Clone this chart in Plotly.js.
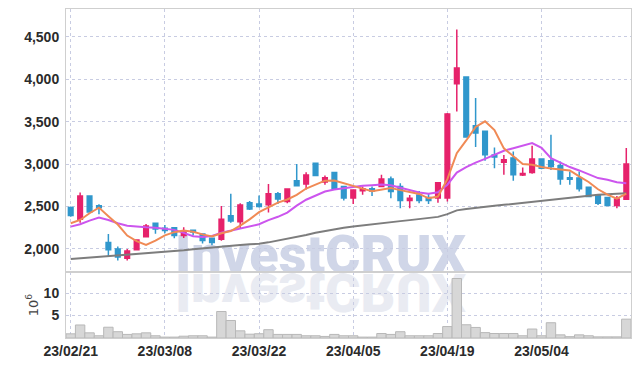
<!DOCTYPE html>
<html>
<head>
<meta charset="utf-8">
<script src="https://cdn.plot.ly/plotly-3.0.1.min.js"></script>
<style>html,body{margin:0;padding:0;background:#fff}#chart{width:639px;height:366px}</style>
</head>
<body>
<div id="chart"></div>
<script>
const dates = ['23/02/21','23/02/22','23/02/23','23/02/24','23/02/27','23/02/28','23/03/02','23/03/03','23/03/06','23/03/07',
'23/03/08','23/03/09','23/03/10','23/03/13','23/03/14','23/03/15','23/03/16','23/03/17','23/03/20','23/03/21',
'23/03/22','23/03/23','23/03/24','23/03/27','23/03/28','23/03/29','23/03/30','23/03/31','23/04/03','23/04/04',
'23/04/05','23/04/06','23/04/07','23/04/10','23/04/11','23/04/12','23/04/13','23/04/14','23/04/17','23/04/18',
'23/04/19','23/04/20','23/04/21','23/04/24','23/04/25','23/04/26','23/04/27','23/04/28','23/05/02','23/05/03',
'23/05/04','23/05/08','23/05/09','23/05/10','23/05/11','23/05/12','23/05/15','23/05/16','23/05/17','23/05/18'];

const openP  = [2490,2350,2625,2510,2075,2000,1890,1990,2145,2303, 2244,2250,2160,2222,2177,2125,2115,2390,2322,2545,
                2530,2520,2650,2560,2805,2765,3010,2790,2900,2735, 2600,2685,2708,2735,2825,2735,2570,2637,2605,2600,
                2600,3945,4025,3450,3385,3108,3020,3070,2870,2900, 3060,3038,2980,2840,2835,2728,2633,2605,2512,2586];
const highP  = [2500,2665,2630,2527,2177,2030,2000,2110,2295,2310, 2283,2260,2255,2230,2185,2130,2505,2650,2540,2565,
                2630,2765,2670,2715,3000,2905,3015,2865,2910,2745, 2700,2735,2735,2873,2853,2775,2637,2684,2650,2790,
                3600,4585,4030,3777,3390,3195,3108,3147,2960,3215, 3065,3345,3030,2912,2912,2735,2640,2610,2625,3190];
const lowP   = [2380,2310,2430,2410,1905,1865,1865,1985,2140,2180, 2185,2126,2130,2160,2065,2045,2098,2310,2245,2460,
                2490,2430,2530,2540,2735,2700,2860,2755,2700,2570, 2530,2640,2625,2730,2598,2480,2480,2539,2530,2545,
                2560,3620,3310,3200,3040,2950,2873,2805,2860,2885, 2940,2930,2755,2755,2676,2610,2518,2505,2480,2580];
const closeP = [2395,2625,2435,2485,1990,1905,1975,2105,2270,2236, 2218,2160,2200,2200,2100,2075,2350,2330,2518,2472,
                2500,2650,2590,2705,2745,2870,2865,2840,2710,2600, 2695,2708,2684,2825,2676,2570,2598,2570,2572,2780,
                3590,4130,3320,3365,3110,3082,3050,2873,2890,3060, 2950,2970,2825,2822,2710,2617,2540,2512,2590,3000];

const maShort = [2303,2342,2421,2487,2386,2288,2158,2092,2049,2098, 2161,2198,2217,2203,2172,2147,2185,2211,2275,2349,
                 2434,2494,2546,2583,2638,2712,2755,2805,2806,2777, 2742,2711,2679,2702,2718,2693,2671,2648,2597,2618,
                 2822,3128,3278,3437,3503,3401,3185,3096,3001,2991, 2965,2949,2939,2925,2855,2789,2703,2640,2594,2652];
const maMid   = [2263,2291,2334,2369,2342,2303,2275,2263,2256,2250, 2240,2225,2190,2150,2140,2154,2191,2214,2239,2262,
                 2291,2340,2379,2429,2510,2580,2630,2676,2700,2715, 2735,2745,2752,2758,2750,2720,2693,2666,2652,2668,
                 2757,2900,2963,3017,3061,3112,3157,3187,3219,3247, 3190,3070,3018,2965,2925,2880,2835,2815,2785,2775];
const maLong  = [1882,1890,1898,1906,1913,1920,1928,1936,1944,1952, 1962,1972,1984,1996,2008,2020,2030,2040,2048,2055,
                 2062,2078,2098,2120,2142,2165,2190,2212,2232,2250, 2266,2280,2292,2304,2316,2328,2340,2352,2364,2378,
                 2410,2455,2470,2485,2500,2510,2520,2532,2546,2560, 2575,2588,2600,2610,2620,2630,2640,2646,2652,2657];

const volume  = [0.93,2.9,1.15,0.5,2.4,1.4,0.8,0.93,1.15,0.5, 0.2,0.2,0.4,0.5,0.5,0.2,5.9,3.9,1.6,0.85,
                 0.95,1.85,0.8,0.8,0.8,0.5,0.5,0.35,0.8,0.5, 0.5,0.2,0.2,1.0,0.8,1.4,0.5,0.5,0.5,1.0,
                 2.55,13.25,2.95,2.35,1.2,1.0,1.0,1.0,0.5,2.0, 0.5,3.4,0.7,0.3,0.7,0.5,0.25,0.25,0.25,4.2];

const tickIdx = [0,10,20,30,40,50];
const xTicks = tickIdx.map(i => dates[i]);
const priceTicks = [2000,2500,3000,3500,4000,4500];
const volTicks = [5,10];
const watermark = 'InvestCRUX';

const RED = '#e6226b', BLUE = '#3097cc';
const tickFont = {family:'"Liberation Sans",Arial,sans-serif', size:14, color:'#2b2b2b', weight:'bold'};
const gridC = '#c8cce2';

const traces = [
  {type:'bar', x:dates, y:volume, xaxis:'x', yaxis:'y',
   marker:{color:'#d7d7d7', line:{color:'#b8b8b8', width:1}}, hoverinfo:'skip'},
  {type:'candlestick', x:dates, open:openP, high:highP, low:lowP, close:closeP, xaxis:'x', yaxis:'y2',
   increasing:{line:{color:RED, width:1.5}, fillcolor:RED},
   decreasing:{line:{color:BLUE, width:1.5}, fillcolor:BLUE}, whiskerwidth:0, hoverinfo:'skip'},
  {type:'scatter', mode:'lines', x:dates, y:maLong, xaxis:'x', yaxis:'y2', line:{color:'#7d7d7d', width:2}, hoverinfo:'skip'},
  {type:'scatter', mode:'lines', x:dates, y:maMid, xaxis:'x', yaxis:'y2', line:{color:'#cc55ee', width:2}, hoverinfo:'skip'},
  {type:'scatter', mode:'lines', x:dates, y:maShort, xaxis:'x', yaxis:'y2', line:{color:'#f08a55', width:2}, hoverinfo:'skip'}
];

const layout = {
  width:639, height:366,
  margin:{l:66, r:8, t:9, b:28},
  paper_bgcolor:'#fff', plot_bgcolor:'#fff',
  showlegend:false, hovermode:false, bargap:0,
  xaxis:{type:'category', range:[-0.5,59.5], tickvals:xTicks, ticktext:xTicks, tickangle:0,
    showgrid:true, gridcolor:gridC, griddash:'dot', gridwidth:1,
    showline:true, linecolor:'#cfcfcf', linewidth:1, mirror:'all',
    ticks:'', tickfont:tickFont,
    rangeslider:{visible:false}, anchor:'y', fixedrange:true},
  yaxis:{domain:[0,0.2006], range:[0,14.7], tickvals:volTicks,
    showgrid:true, gridcolor:gridC, griddash:'dot', zeroline:false,
    showline:true, linecolor:'#cfcfcf', mirror:'all',
    ticks:'outside', ticklen:3, tickcolor:'rgba(0,0,0,0)', tickfont:tickFont,
    title:{text:'10<sup>6</sup>', font:{family:'"DejaVu Sans",sans-serif', size:13, color:'#444'}, standoff:2},
    fixedrange:true},
  yaxis2:{domain:[0.2006,1], range:[1729,4826], tickvals:priceTicks, tickformat:',d',
    showgrid:true, gridcolor:gridC, griddash:'dot', zeroline:false,
    showline:true, linecolor:'#cfcfcf', mirror:'all',
    ticks:'outside', ticklen:3, tickcolor:'rgba(0,0,0,0)', tickfont:tickFont,
    anchor:'x', fixedrange:true},
  annotations:[
    {text:watermark, xref:'paper', yref:'paper', x:0.452, y:0.152, xanchor:'center', yanchor:'bottom',
     showarrow:false, font:{family:'Roboto, "Liberation Sans", sans-serif', size:54, color:'#d0d6e8', weight:900}},
    {text:watermark, xref:'paper', yref:'paper', x:0.452, y:0.152, xanchor:'center', yanchor:'bottom',
     showarrow:false, font:{family:'Roboto, "Liberation Sans", sans-serif', size:54, color:'#e9ebf2', weight:900}}
  ]
};

Plotly.newPlot('chart', traces, layout, {staticPlot:true, displayModeBar:false}).then(gd => {
  const anns = gd.querySelectorAll('g.annotation');
  const below = gd.querySelector('svg.main-svg g.layer-below');
  if (anns.length < 2 || !below) return;
  const base = gd.getBoundingClientRect();
  const t = anns[0].querySelector('text');
  const r = t.getBoundingClientRect();
  const baseline = r.top - base.top + r.height * 0.79;
  const L = baseline + 0.5;
  const ns = 'http://www.w3.org/2000/svg';
  const wrap = document.createElementNS(ns, 'g');
  wrap.setAttribute('transform', 'translate(0,' + (2 * L) + ') scale(1,-1)');
  below.appendChild(anns[0]);
  wrap.appendChild(anns[1]);
  below.appendChild(wrap);
});
</script>
</body>
</html>
